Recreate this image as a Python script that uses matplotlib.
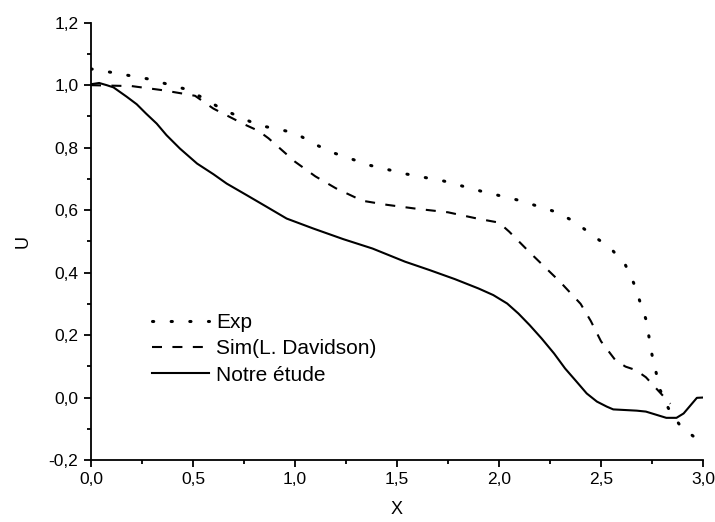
import matplotlib
matplotlib.use("Agg")
import matplotlib.pyplot as plt
from matplotlib.ticker import MultipleLocator

plt.rcParams['font.family'] = ['Liberation Sans', 'DejaVu Sans']

# Experimental profile
exp_x = [0.0, 0.10, 0.28, 0.46, 0.55, 0.64, 0.82, 0.91, 1.00, 1.10, 1.19, 1.37,
         1.55, 1.73, 1.91, 2.10, 2.28, 2.37, 2.46, 2.55, 2.62, 2.66, 2.69, 2.72,
         2.735, 2.75, 2.79, 2.83, 2.89, 2.98]
exp_y = [1.052, 1.041, 1.020, 0.988, 0.959, 0.924, 0.872, 0.860, 0.847, 0.810,
         0.783, 0.743, 0.715, 0.693, 0.661, 0.631, 0.594, 0.563, 0.519, 0.476,
         0.424, 0.367, 0.309, 0.251, 0.195, 0.137, 0.024, -0.034, -0.092, -0.138]

# Simulation by L. Davidson
sim_x = [0.0, 0.20, 0.35, 0.45, 0.51, 0.60, 0.75, 0.82, 0.87, 1.00, 1.10, 1.20,
         1.33, 1.45, 1.60, 1.75, 1.90, 2.00, 2.05, 2.15, 2.30, 2.40, 2.45, 2.50,
         2.57, 2.62, 2.67, 2.72, 2.84]
sim_y = [1.000, 0.997, 0.984, 0.973, 0.966, 0.925, 0.875, 0.854, 0.830, 0.755,
         0.708, 0.670, 0.630, 0.617, 0.604, 0.593, 0.572, 0.560, 0.531, 0.465,
         0.370, 0.300, 0.245, 0.180, 0.120, 0.099, 0.088, 0.065, -0.020]

# Present study
our_x = [0.0, 0.04, 0.077, 0.11, 0.175, 0.224, 0.27, 0.322, 0.37, 0.436, 0.52,
         0.60, 0.665, 0.763, 0.86, 0.959, 1.09, 1.237, 1.38, 1.539, 1.66, 1.784,
         1.90, 1.972, 2.04, 2.095, 2.15, 2.209, 2.27, 2.324, 2.38, 2.43, 2.48,
         2.528, 2.56, 2.675, 2.72, 2.82, 2.87, 2.905, 2.97, 3.0]
our_y = [1.003, 1.007, 1.000, 0.993, 0.963, 0.939, 0.909, 0.877, 0.840, 0.797,
         0.749, 0.715, 0.685, 0.648, 0.611, 0.573, 0.541, 0.507, 0.477, 0.435,
         0.408, 0.379, 0.349, 0.328, 0.301, 0.269, 0.232, 0.189, 0.141, 0.093,
         0.051, 0.013, -0.013, -0.029, -0.038, -0.042, -0.045, -0.065, -0.065,
         -0.051, -0.001, 0.0]

series_labels = ["Exp", "Sim(L. Davidson)", "Notre étude"]

x_ticks = [0.0, 0.5, 1.0, 1.5, 2.0, 2.5, 3.0]
x_tick_labels = ["0,0", "0,5", "1,0", "1,5", "2,0", "2,5", "3,0"]
y_ticks = [-0.2, 0.0, 0.2, 0.4, 0.6, 0.8, 1.0, 1.2]
y_tick_labels = ["-0,2", "0,0", "0,2", "0,4", "0,6", "0,8", "1,0", "1,2"]

fig = plt.figure(figsize=(7.15, 5.22), dpi=100)
ax = fig.add_axes([91 / 715, 1 - 460 / 522, 612 / 715, (460 - 22.7) / 522])

ax.plot(exp_x, exp_y, color='black', lw=2.2, linestyle=(0, (0.4, 5.7)),
        dash_capstyle='round', label=series_labels[0])
ax.plot(sim_x, sim_y, color='black', lw=1.5, linestyle=(0, (4.8, 5.0)),
        dash_capstyle='butt', label=series_labels[1])
ax.plot(our_x, our_y, color='black', lw=1.5, linestyle='-',
        label=series_labels[2])

ax.set_xlim(0, 3.0)
ax.set_ylim(-0.2, 1.2)
ax.set_xticks(x_ticks)
ax.set_xticklabels(x_tick_labels)
ax.set_yticks(y_ticks)
ax.set_yticklabels(y_tick_labels)
ax.xaxis.set_minor_locator(MultipleLocator(0.25))
ax.yaxis.set_minor_locator(MultipleLocator(0.1))

for side in ('top', 'right'):
    ax.spines[side].set_visible(False)
for side in ('left', 'bottom'):
    ax.spines[side].set_linewidth(1.3)

ax.tick_params(which='major', direction='out', length=5, width=1.3,
               labelsize=12.5, pad=4)
ax.tick_params(which='minor', direction='out', length=3, width=1.3)

ax.set_xlabel("X", fontsize=13, labelpad=10)
ax.set_ylabel("U", fontsize=13, labelpad=12)

ax.legend(loc='upper left', bbox_to_anchor=(0.099, 0.336), frameon=False,
          fontsize=15, handlelength=2.75, handletextpad=0.33, labelspacing=0.35,
          borderpad=0, borderaxespad=0)

fig.savefig("out.png", dpi=100)
